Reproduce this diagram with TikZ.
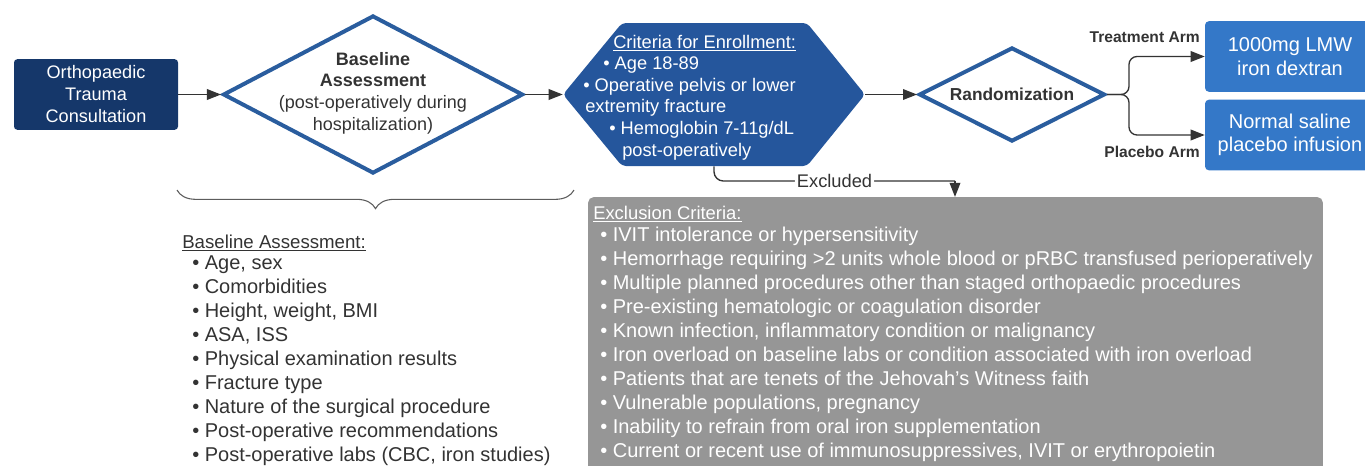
\documentclass[tikz,border=0pt]{standalone}
\usepackage{fontspec}
\setmainfont{Liberation Sans}
\usetikzlibrary{arrows.meta,shapes.geometric,decorations.pathreplacing,positioning}

\definecolor{navy}{HTML}{15376A}
\definecolor{hexblue}{HTML}{25569C}
\definecolor{outline}{HTML}{2A5D9E}
\definecolor{armblue}{HTML}{3478C8}
\definecolor{exclgray}{HTML}{969696}
\definecolor{ink}{HTML}{333333}

\newcommand{\fsize}[2]{\fontsize{#1}{#2}\selectfont}

\tikzset{
  conn/.style={draw=ink, line width=1pt, -{Triangle[length=10.5pt,width=8pt]}},
  plainconn/.style={draw=ink, line width=1pt},
  consultbox/.style={fill=navy, text=white, rounded corners=2.5pt, minimum width=123pt,
    minimum height=53pt, align=center, font=\fsize{13.6}{16.5}},
  decision/.style={diamond, draw=outline, line width=3pt, inner sep=0pt},
  critfill/.style={fill=hexblue, rounded corners=3pt},
  armbox/.style={fill=armblue, text=white, rounded corners=3pt, minimum width=127.5pt,
    minimum height=53pt, align=center, font=\fsize{15}{17.5}},
  armlabel/.style={font=\bfseries\fsize{11.7}{14}, text=ink, anchor=east, inner sep=0pt},
  darktext/.style={text=ink, inner sep=0pt},
  whitetext/.style={text=white, inner sep=0pt},
  exclbox/.style={fill=exclgray, rounded corners=4pt, minimum width=551pt, minimum height=212pt},
  groupbrace/.style={decorate, decoration={brace, mirror, amplitude=14pt}, draw=ink!80, line width=0.8pt}
}

\begin{document}
\begin{tikzpicture}[x=0.75pt, y=-0.75pt]
  \useasboundingbox (0,0) rectangle (1365,465);

  % top row
  \node[consultbox] (consult) at (96,94.5) {Orthopaedic\\Trauma\\Consultation};
  \node[decision, minimum width=225pt, minimum height=118.5pt] (base) at (373,94.5) {};
  \node[darktext, align=center, font=\fsize{13.5}{16.3}] (basetxt) at (373,93)
    {\textbf{Baseline}\\\textbf{Assessment}\\(post-operatively during\\hospitalization)};

  \node[minimum width=226.5pt, minimum height=107.25pt, inner sep=0pt] (crit) at (714,94.5) {};
  \fill[critfill] (563,94.5) -- (622,23) -- (807,23) -- (865,94.5) -- (807,166) -- (622,166) -- cycle;
  \foreach \x/\y/\txt [count=\i] in {
      613/48.5/{\underline{Criteria for Enrollment:}},
      603/69.5/{\textbullet\ Age 18-89},
      583/91.5/{\textbullet\ Operative pelvis or lower},
      585/112.5/{extremity fracture},
      609/134.5/{\textbullet\ Hemoglobin 7-11g/dL},
      622/156.5/{post-operatively}}
    \node[whitetext, anchor=base west, font=\fsize{13.7}{16}] (crit\i) at (\x,\y) {\txt};

  \node[decision, minimum width=139.5pt, minimum height=70.5pt] (rand) at (1012,94.5) {};
  \node[font=\bfseries\fsize{13}{15}, text=ink, inner sep=0pt] (randtxt) at (1012,94.5) {Randomization};

  \node[armbox] (treat) at (1290,56.5) {1000mg LMW\\iron dextran};
  \node[armbox] (placebo) at (1290,135) {Normal saline\\placebo infusion};
  \node[armlabel] (treatlbl) at (1200,37) {Treatment Arm};
  \node[armlabel] (placebolbl) at (1200,152) {Placebo Arm};

  \draw[conn] (consult) -- (base);
  \draw[conn] (base) -- (crit);
  \draw[conn] (crit) -- (rand);
  \draw[conn, rounded corners=6pt] (rand.east) -- ++(22,0) |- (treat.west);
  \draw[conn, rounded corners=6pt] (rand.east) -- ++(22,0) |- (placebo.west);

  % exclusion
  \node[exclbox] (excl) at (955.5,338.5) {};
  \coordinate (bend) at (955,181);
  \draw[plainconn, rounded corners=7pt] (crit.south) |-
    node[pos=0.75, fill=white, text=ink, font=\fsize{13.7}{16}, inner sep=1.5pt] (exlbl) {Excluded} (bend);
  \draw[conn] (bend) -- (bend |- excl.north);

  \node[whitetext, anchor=base west, font=\fsize{13.8}{16}] (excltitle) at (593,219.5)
    {\underline{Exclusion Criteria:}};
  \foreach \txt [count=\i] in {
      {IVIT intolerance or hypersensitivity},
      {Hemorrhage requiring >2 units whole blood or pRBC transfused perioperatively},
      {Multiple planned procedures other than staged orthopaedic procedures},
      {Pre-existing hematologic or coagulation disorder},
      {Known infection, inflammatory condition or malignancy},
      {Iron overload on baseline labs or condition associated with iron overload},
      {Patients that are tenets of the Jehovah’s Witness faith},
      {Vulnerable populations, pregnancy},
      {Inability to refrain from oral iron supplementation},
      {Current or recent use of immunosuppressives, IVIT or erythropoietin}}
    \node[whitetext, anchor=base west, font=\fsize{15}{18}] (excl\i) at (600,{241+24*(\i-1)})
      {\textbullet\ \txt};

  % baseline list
  \draw[groupbrace] (177,190) -- (574,190);
  \node[darktext, anchor=base west, font=\fsize{14}{16}] (basetitle) at (182,248.5)
    {\underline{Baseline Assessment:}};
  \foreach \txt [count=\i] in {
      {Age, sex},
      {Comorbidities},
      {Height, weight, BMI},
      {ASA, ISS},
      {Physical examination results},
      {Fracture type},
      {Nature of the surgical procedure},
      {Post-operative recommendations},
      {Post-operative labs (CBC, iron studies)}}
    \node[darktext, anchor=base west, font=\fsize{15}{18}] (item\i) at (192,{269.5+24*(\i-1)})
      {\textbullet\ \txt};
\end{tikzpicture}
\end{document}
